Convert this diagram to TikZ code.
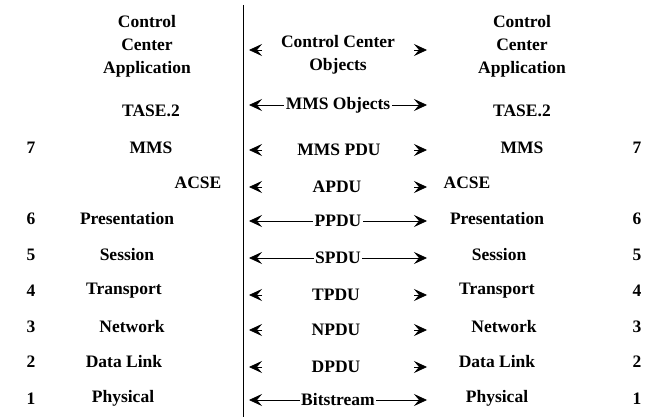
\documentclass[tikz,border=0pt]{standalone}
\usepackage{fontspec}
\setmainfont{Liberation Serif}
\newfontfamily\layerfont{Liberation Serif}
\usetikzlibrary{arrows.meta}
\tikzset{
 layer/.style={font=\layerfont\bfseries\fontsize{17.5}{23}\selectfont, inner sep=1pt, align=center},
 pdu/.style={layer, fill=white, inner sep=1.5pt},
 peer/.style={line width=0.8pt, {Stealth[length=13pt,width=12pt,inset=5pt]}-{Stealth[length=13pt,width=12pt,inset=5pt]}},
 tip/.style={line width=0.8pt, -{Stealth[length=13pt,width=12pt,inset=5pt]}}
}

\begin{document}
\begin{tikzpicture}[x=1pt, y=-1pt]
\useasboundingbox (0,0) rectangle (664,419);
% dividing line
\coordinate (divtop) at (243,5);
\coordinate (divbot) at (243,417);
\draw[line width=0.8pt] (divtop) -- (divbot);

% application on both ends
\node[layer] (appL) at (147,46) {Control\\Center\\Application};
\node[layer] (appR) at (522,46) {Control\\Center\\Application};
\node[layer] (objC) at (338,55) {Control Center\\Objects};
\coordinate (objL) at (249,50);
\coordinate (objR) at (427,50);
\draw[tip] ([xshift=13pt]objL) -- (objL);
\draw[tip] ([xshift=-13pt]objR) -- (objR);

% layer names, left and right stack
\node[layer] (taseL) at (151,111) {TASE.2};
\node[layer] (taseR) at (522,111) {TASE.2};
\node[layer] (mmsL) at (151,148) {MMS};
\node[layer] (mmsR) at (522,148) {MMS};
\node[layer] (acseL) at (198,183) {ACSE};
\node[layer] (acseR) at (467,183) {ACSE};
\node[layer] (presL) at (127,219) {Presentation};
\node[layer] (presR) at (497,219) {Presentation};
\node[layer] (sessL) at (127,255) {Session};
\node[layer] (sessR) at (499,255) {Session};
\node[layer] (tranL) at (124,291) {Transport};
\node[layer] (tranR) at (497,291) {Transport};
\node[layer] (netL) at (132,327) {Network};
\node[layer] (netR) at (504,327) {Network};
\node[layer] (dlL) at (124,362) {Data Link};
\node[layer] (dlR) at (497,362) {Data Link};
\node[layer] (phyL) at (123,398) {Physical};
\node[layer] (phyR) at (497,398) {Physical};

% OSI layer numbers
\foreach \n/\y in {7/148,6/219,5/255,4/291,3/327,2/362,1/399} {
 \node[layer] (numL\n) at (31,\y) {\n};
 \node[layer] (numR\n) at (637,\y) {\n};
}

% peer exchange in the middle
\coordinate (mobL) at (249,105);  \coordinate (mobR) at (427,105);
\draw[peer] (mobL) -- node[pdu] (mob) {MMS Objects} (mobR);

\coordinate (mpduL) at (249,150); \coordinate (mpduR) at (427,150);
\node[layer] (mpdu) at (339,150) {MMS PDU};
\draw[tip] ([xshift=13pt]mpduL) -- (mpduL);
\draw[tip] ([xshift=-13pt]mpduR) -- (mpduR);

\coordinate (apduL) at (249,187); \coordinate (apduR) at (427,187);
\node[layer] (apdu) at (337,187) {APDU};
\draw[tip] ([xshift=13pt]apduL) -- (apduL);
\draw[tip] ([xshift=-13pt]apduR) -- (apduR);

\coordinate (ppduL) at (249,221); \coordinate (ppduR) at (427,221);
\draw[peer] (ppduL) -- node[pdu] (ppdu) {PPDU} (ppduR);

\coordinate (spduL) at (249,258); \coordinate (spduR) at (427,258);
\draw[peer] (spduL) -- node[pdu] (spdu) {SPDU} (spduR);

\coordinate (tpduL) at (249,295); \coordinate (tpduR) at (427,295);
\node[layer] (tpdu) at (336,295) {TPDU};
\draw[tip] ([xshift=13pt]tpduL) -- (tpduL);
\draw[tip] ([xshift=-13pt]tpduR) -- (tpduR);

\coordinate (npduL) at (249,330); \coordinate (npduR) at (427,330);
\node[layer] (npdu) at (336,330) {NPDU};
\draw[tip] ([xshift=13pt]npduL) -- (npduL);
\draw[tip] ([xshift=-13pt]npduR) -- (npduR);

\coordinate (dpduL) at (249,367); \coordinate (dpduR) at (427,367);
\node[layer] (dpdu) at (336,367) {DPDU};
\draw[tip] ([xshift=13pt]dpduL) -- (dpduL);
\draw[tip] ([xshift=-13pt]dpduR) -- (dpduR);

\coordinate (bitL) at (249,400); \coordinate (bitR) at (427,400);
\draw[peer] (bitL) -- node[pdu] (bits) {Bitstream} (bitR);
\end{tikzpicture}
\end{document}
